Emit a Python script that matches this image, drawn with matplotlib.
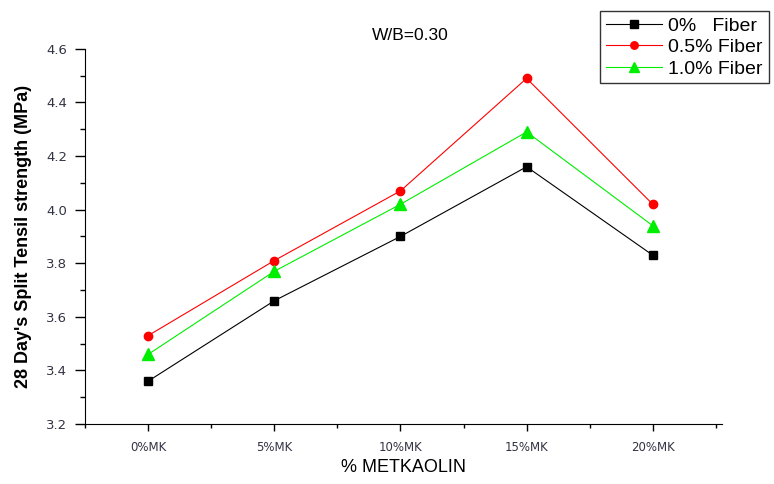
import matplotlib
matplotlib.use('Agg')
import matplotlib.pyplot as plt
from matplotlib.ticker import MultipleLocator, FormatStrFormatter

plt.rcParams['font.family'] = ['Liberation Sans', 'DejaVu Sans']

categories = ['0%MK', '5%MK', '10%MK', '15%MK', '20%MK']
fiber_0 = [3.36, 3.66, 3.90, 4.16, 3.83]
fiber_05 = [3.53, 3.81, 4.07, 4.49, 4.02]
fiber_10 = [3.46, 3.77, 4.02, 4.29, 3.94]
labels = ['0%   Fiber', '0.5% Fiber', '1.0% Fiber']

fig = plt.figure(figsize=(7.74, 4.84), dpi=100)
ax = fig.add_axes([0.110, 0.124, 0.823, 0.775])

x = list(range(len(categories)))
ax.plot(x, fiber_0, color='black', lw=0.8, marker='s', ms=6, label=labels[0])
ax.plot(x, fiber_05, color='red', lw=0.8, marker='o', ms=6, label=labels[1])
ax.plot(x, fiber_10, color='#00ee00', lw=0.8, marker='^', ms=8, label=labels[2])

ax.set_xlim(-0.5, 4.55)
ax.set_ylim(3.2, 4.6)
ax.set_xticks(x)
ax.set_xticklabels(categories, fontsize=8.5, color='#333344', family='DejaVu Sans')
ax.xaxis.set_minor_locator(MultipleLocator(0.5))
ax.yaxis.set_major_locator(MultipleLocator(0.2))
ax.yaxis.set_minor_locator(MultipleLocator(0.1))
ax.yaxis.set_major_formatter(FormatStrFormatter('%.1f'))
for t in ax.get_yticklabels():
    t.set_fontsize(9.5)
    t.set_color('#333344')
    t.set_family('DejaVu Sans')
ax.tick_params(axis='y', which='major', length=7, width=1, direction='out', pad=6)
ax.tick_params(axis='y', which='minor', length=3.5, width=1, direction='out')
ax.tick_params(axis='x', which='major', length=5, width=1, direction='out', pad=7)
ax.tick_params(axis='x', which='minor', length=3, width=1, direction='out')
ax.spines['top'].set_visible(False)
ax.spines['right'].set_visible(False)

ax.set_xlabel('% METKAOLIN', fontsize=13, labelpad=4)
ax.set_ylabel("28 Day's Split Tensil strength (MPa)", fontsize=13, fontweight='bold', labelpad=10)
fig.text(0.53, 0.927, 'W/B=0.30', fontsize=12.5, ha='center', va='center')

leg = fig.legend(loc='upper right', bbox_to_anchor=(0.998, 0.985), fontsize=14,
                 frameon=True, fancybox=False, edgecolor='black', handlelength=2.9,
                 handletextpad=0.3, borderpad=0.3, labelspacing=0.2, borderaxespad=0.2,
                 markerscale=0.9)
leg.get_frame().set_linewidth(1.0)

fig.savefig('out.png', dpi=100)
